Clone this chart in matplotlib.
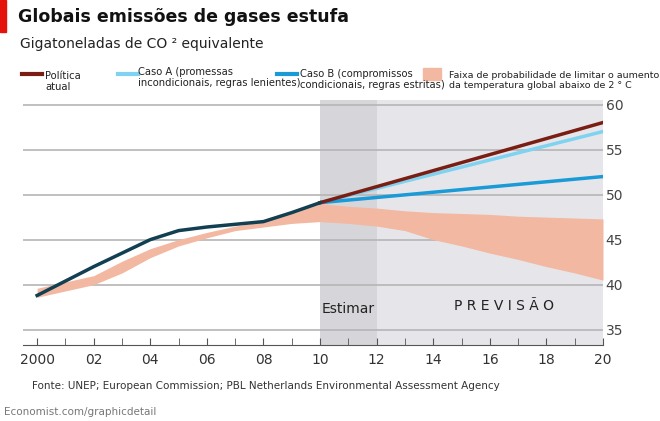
import matplotlib.pyplot as plt
from matplotlib.patches import Rectangle

hist_years = [2000, 2001, 2002, 2003, 2004, 2005, 2006, 2007, 2008, 2009, 2010]
hist_vals = [38.8, 40.4, 42.0, 43.5, 45.0, 46.0, 46.4, 46.7, 47.0, 48.0, 49.1]
proj_years = [2010, 2020]
politica = [49.1, 58.0]
caso_a = [49.1, 57.0]
caso_b = [49.1, 52.0]
band_years = [2000, 2001, 2002, 2003, 2004, 2005, 2006, 2007, 2008, 2009, 2010,
              2011, 2012, 2013, 2014, 2015, 2016, 2017, 2018, 2019, 2020]
band_low = [38.6, 39.3, 40.0, 41.3, 43.0, 44.3, 45.2, 46.0, 46.4, 46.8, 47.0,
            46.8, 46.5, 46.0, 45.0, 44.3, 43.5, 42.8, 42.0, 41.3, 40.5]
band_high = [39.6, 40.3, 41.0, 42.6, 44.0, 45.0, 45.8, 46.5, 47.0, 48.0, 49.0,
             48.7, 48.5, 48.2, 48.0, 47.9, 47.8, 47.6, 47.5, 47.4, 47.3]
xticks = [2000, 2002, 2004, 2006, 2008, 2010, 2012, 2014, 2016, 2018, 2020]
xlabels = ["2000", "02", "04", "06", "08", "10", "12", "14", "16", "18", "20"]
yticks = [35, 40, 45, 50, 55, 60]

RED = "#7a1e14"
LIGHT = "#7fd3f0"
BLUE = "#1a9ad6"
BAND = "#f2b8a2"

fig = plt.figure(figsize=(6.6, 4.21), dpi=100)
ax = fig.add_axes([23 / 660, 1 - 345 / 421, 580 / 660, 245 / 421])

ax.axvspan(2010, 2012, color="#d6d6da", lw=0)
ax.axvspan(2012, 2020, color="#e6e6ea", lw=0)
for y in yticks:
    ax.axhline(y, color="#b5b5b5", lw=1.2, zorder=1)

ax.fill_between(band_years, band_low, band_high, color=BAND, lw=0, zorder=2)
ax.plot(proj_years, politica, color=RED, lw=2.5, zorder=4)
ax.plot(proj_years, caso_a, color=LIGHT, lw=2.5, zorder=3)
ax.plot(proj_years, caso_b, color=BLUE, lw=2.5, zorder=3)
ax.plot(hist_years, hist_vals, color="#123f52", lw=2.5, zorder=5)

ax.set_xlim(1999.5, 2020)
ax.set_ylim(33.3, 60.5)
ax.set_xticks(xticks)
ax.set_xticklabels(xlabels, fontsize=10, color="#333333")
ax.set_xticks(range(2000, 2021), minor=True)
ax.set_yticks(yticks)
ax.yaxis.tick_right()
ax.tick_params(axis="y", length=0, labelsize=10, labelcolor="#444444", pad=2)
ax.tick_params(axis="x", which="both", direction="in", length=5, color="#555555", pad=6)
for s in ["top", "right", "left"]:
    ax.spines[s].set_visible(False)
ax.spines["bottom"].set_color("#555555")

ax.text(2011, 36.8, "Estimar", ha="center", fontsize=10, color="#222222")
ax.text(2016.5, 37.2, "P R E V I S Ã O", ha="center", fontsize=10, color="#222222")

fig.patches.append(Rectangle((0, 1 - 32 / 421), 6 / 660, 32 / 421, transform=fig.transFigure, color="#e3120b"))
fig.text(18 / 660, 1 - 22 / 421, "Globais emissões de gases estufa", fontsize=12.5, fontweight="bold", color="#111111")
fig.text(20 / 660, 1 - 48 / 421, "Gigatoneladas de CO ² equivalente", fontsize=10, color="#222222")

def leg_line(x, color):
    fig.add_artist(plt.Line2D([x / 660, (x + 20) / 660], [1 - 74 / 421] * 2, color=color, lw=3))

LS = 7.2
leg_line(22, RED)
fig.text(45 / 660, 1 - 90 / 421, "Política\natual", fontsize=LS, color="#222222", linespacing=1.15)
leg_line(118, LIGHT)
fig.text(138 / 660, 1 - 86 / 421, "Caso A (promessas\nincondicionais, regras lenientes)", fontsize=LS, color="#222222", linespacing=1.15)
leg_line(277, BLUE)
fig.text(300 / 660, 1 - 88 / 421, "Caso B (compromissos\ncondicionais, regras estritas)", fontsize=LS, color="#222222", linespacing=1.15)
fig.patches.append(Rectangle((423 / 660, 1 - 80 / 421), 18 / 660, 12 / 421, transform=fig.transFigure, color=BAND))
fig.text(449 / 660, 1 - 88 / 421, "Faixa de probabilidade de limitar o aumento\nda temperatura global abaixo de 2 ° C", fontsize=LS - 0.4, color="#222222", linespacing=1.15)

fig.text(32 / 660, 1 - 389 / 421, "Fonte: UNEP; European Commission; PBL Netherlands Environmental Assessment Agency", fontsize=7.5, color="#333333")
fig.text(4 / 660, 1 - 415 / 421, "Economist.com/graphicdetail", fontsize=7.5, color="#777777")

fig.savefig("out.png", dpi=100)
